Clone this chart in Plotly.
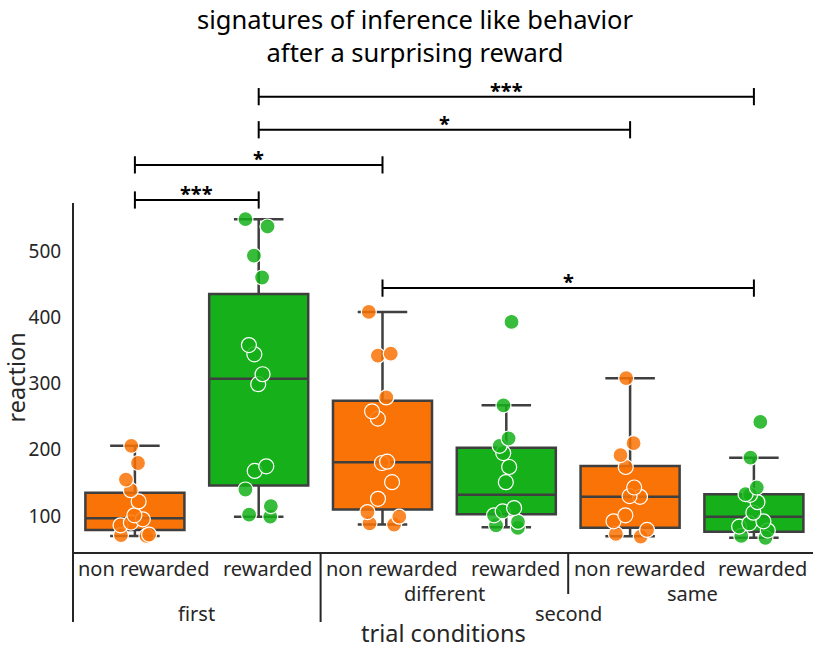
import plotly.graph_objects as go

# ---- data -------------------------------------------------------------
trial = ["first", "first", "second", "second", "second", "second"]
context = ["", "", "different", "different", "same", "same"]
outcome = ["non rewarded", "rewarded", "non rewarded", "rewarded", "non rewarded", "rewarded"]

first_nonrew = [206, 180, 155, 139, 122, 101, 95, 90, 86, 72, 71, 70]
first_rew = [548, 537, 493, 460, 358, 344, 314, 299, 175, 168, 140, 115, 102, 99]
diff_nonrew = [408, 345, 342, 279, 258, 247, 182, 180, 151, 126, 106, 99, 89, 87]
diff_rew = [393, 267, 217, 206, 195, 174, 151, 112, 107, 101, 91, 86, 82]
same_nonrew = [308, 210, 192, 174, 143, 130, 129, 101, 92, 79, 73, 69]
same_rew = [242, 188, 143, 133, 132, 121, 105, 92, 89, 84, 78, 70, 67]
groups = [first_nonrew, first_rew, diff_nonrew, diff_rew, same_nonrew, same_rew]

# box summary per condition
q1 = [79, 146, 110, 102.5, 82.4, 76.4]
median = [96.5, 307, 181, 132, 129, 99]
q3 = [135, 435, 274, 203, 175.5, 133]
lowerfence = [70, 99, 87, 83, 69.5, 67]
upperfence = [206, 548, 408, 267, 308, 188]

# significance comparisons: (left condition, right condition, bracket level, stars)
comp_left = [0, 0, 1, 1, 2]
comp_right = [1, 2, 4, 5, 5]
comp_level = [577, 630, 683, 733, 444]
comp_label = ["***", "*", "*", "***", "*"]

# ---- layout constants -------------------------------------------------
W, H = 813, 649
ML, MR, MT, MB = 73, 0, 80, 97
PW, PH = W - ML - MR, H - MT - MB
CAT_W = 123.8                      # pixels per condition
PX_PER_UNIT = 0.6625               # pixels per reaction unit
XR = [-0.5, -0.5 + PW / CAT_W]
Y_BOT = 100 - (H - MB - 516) / PX_PER_UNIT
YR = [Y_BOT, Y_BOT + PH / PX_PER_UNIT]
Y_AXIS_TOP = 572.5

ORANGE = "#F97306"
GREEN = "#15B01A"
PT_ORANGE = "rgba(249,115,6,0.85)"
PT_GREEN = "rgba(21,176,26,0.85)"
EDGE = "#3f3f3f"
AX = "#262626"
FONT = "Noto Sans"
TICK_SIZE = 20
LABEL_SIZE = 23.5


def paper_y(px):
    """page pixel row -> paper coordinate"""
    return (H - MB - px) / PH


def paper_x(v):
    return (v - XR[0]) / (XR[1] - XR[0])


fig = go.Figure()

# boxes
for idxs, color in (([0, 2, 4], ORANGE), ([1, 3, 5], GREEN)):
    fig.add_trace(go.Box(
        x=idxs,
        q1=[q1[i] for i in idxs], median=[median[i] for i in idxs], q3=[q3[i] for i in idxs],
        lowerfence=[lowerfence[i] for i in idxs], upperfence=[upperfence[i] for i in idxs],
        width=0.8, whiskerwidth=0.5, fillcolor=color,
        line=dict(color=EDGE, width=2.5),
        boxpoints=False, showlegend=False, hoverinfo="skip",
    ))

# individual observations
for i, vals in enumerate(groups):
    pc = PT_ORANGE if i % 2 == 0 else PT_GREEN
    fig.add_trace(go.Box(
        x=[i] * len(vals), y=vals,
        width=0.8, boxpoints="all", jitter=0.45, pointpos=0,
        fillcolor="rgba(0,0,0,0)", line=dict(color="rgba(0,0,0,0)", width=0),
        marker=dict(color=pc, size=15, line=dict(color="white", width=1.2)),
        showlegend=False, hoverinfo="skip",
    ))

# significance brackets
TICK = 13
bx, by = [], []
for a, b, h in zip(comp_left, comp_right, comp_level):
    bx += [a, a, None, a, b, None, b, b, None]
    by += [h - TICK, h + TICK, None, h, h, None, h - TICK, h + TICK, None]
fig.add_trace(go.Scatter(x=bx, y=by, mode="lines", line=dict(color="black", width=2),
                         showlegend=False, hoverinfo="skip"))

annotations = []
for a, b, h, lab in zip(comp_left, comp_right, comp_level, comp_label):
    annotations.append(dict(x=(a + b) / 2, y=h, xref="x", yref="y", text=f"<b>{lab}</b>",
                            showarrow=False, yanchor="bottom", yshift=-9,
                            font=dict(family=FONT, size=20, color="black")))

shapes = []
# left spine down through the grouped axis labels
shapes.append(dict(type="line", xref="paper", yref="paper", x0=0, x1=0,
                   y0=paper_y(622), y1=(Y_AXIS_TOP - YR[0]) / (YR[1] - YR[0]),
                   line=dict(color=AX, width=2)))
# group dividers
for xv, bottom in ((1.5, 622), (3.5, 594)):
    shapes.append(dict(type="line", xref="paper", yref="paper", x0=paper_x(xv), x1=paper_x(xv),
                       y0=paper_y(bottom), y1=0, line=dict(color=AX, width=2)))

# hierarchical category labels
for i, lab in enumerate(outcome):
    annotations.append(dict(x=i, y=paper_y(568), xref="x", yref="paper", text=lab,
                            showarrow=False, xshift=9, yanchor="middle", borderpad=0,
                            font=dict(family=FONT, size=TICK_SIZE, color=AX)))
for xc, lab in ((2.5, "different"), (4.5, "same")):
    annotations.append(dict(x=xc, y=paper_y(593), xref="x", yref="paper", text=lab,
                            showarrow=False, yanchor="middle", borderpad=0,
                            font=dict(family=FONT, size=TICK_SIZE, color=AX)))
for xc, lab in ((0.5, "first"), (3.5, "second")):
    annotations.append(dict(x=xc, y=paper_y(613), xref="x", yref="paper", text=lab,
                            showarrow=False, yanchor="middle", borderpad=0,
                            font=dict(family=FONT, size=TICK_SIZE, color=AX)))
annotations.append(dict(x=0.5, y=paper_y(633), xref="paper", yref="paper", text="trial conditions",
                        showarrow=False, yanchor="middle", borderpad=0,
                        font=dict(family=FONT, size=LABEL_SIZE, color=AX)))
annotations.append(dict(x=0, y=(YR[0] + Y_AXIS_TOP) / 2, xref="paper", yref="y",
                        text="reaction", textangle=-90, showarrow=False, borderpad=0,
                        xanchor="center", yanchor="middle", xshift=-(ML - 16),
                        font=dict(family=FONT, size=LABEL_SIZE, color=AX)))

fig.update_layout(
    width=W, height=H,
    margin=dict(l=ML, r=MR, t=MT, b=MB, pad=0),
    paper_bgcolor="white", plot_bgcolor="white",
    font=dict(family=FONT, color=AX),
    title=dict(text="signatures of inference like behavior<br>after a surprising reward",
               x=415 / W, xanchor="center", y=1 - 29 / H, yanchor="middle",
               font=dict(family=FONT, size=25.5, color="black")),
    xaxis=dict(range=XR, showticklabels=False, ticks="", showgrid=False, zeroline=False,
               showline=True, linecolor=AX, linewidth=2),
    yaxis=dict(range=YR, tickvals=[100, 200, 300, 400, 500], ticks="outside", ticklen=7,
               tickcolor="rgba(0,0,0,0)", showgrid=False, zeroline=False, showline=False,
               tickfont=dict(family=FONT, size=19, color=AX)),
    shapes=shapes,
    annotations=annotations,
    boxmode="overlay",
)

fig.write_html("out.html")
